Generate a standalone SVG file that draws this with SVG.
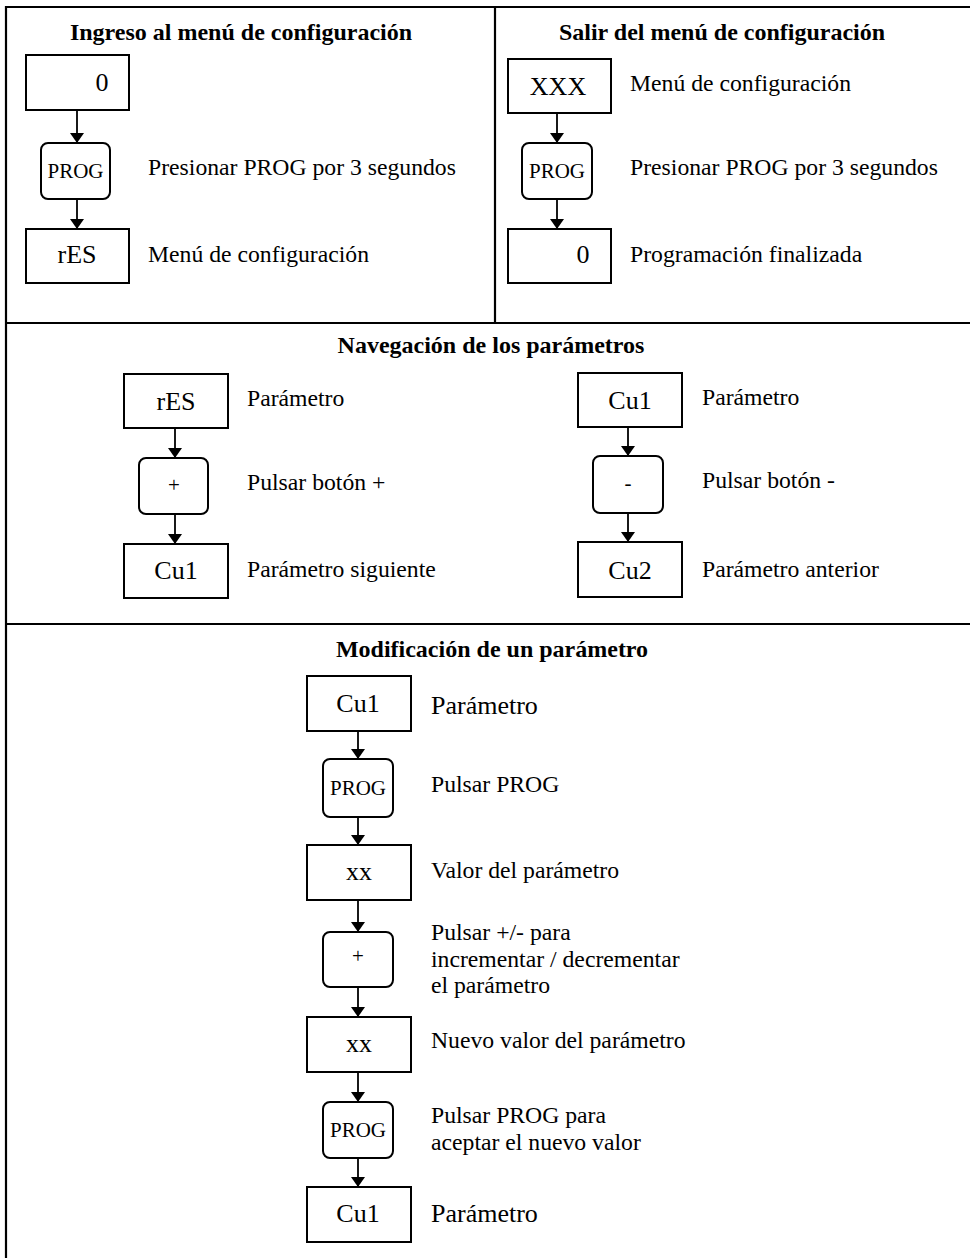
<svg xmlns="http://www.w3.org/2000/svg" width="970" height="1258" viewBox="0 0 970 1258">
<style>
text{font-family:"Liberation Serif","Times New Roman",serif;fill:#000}
.t{font-weight:bold;font-size:24px;text-anchor:middle}
.l{font-size:23.7px}
.lb{font-size:26px}
.v{font-size:26px;text-anchor:middle}
.p{font-size:21px;text-anchor:middle}
.box{fill:#fff;stroke:#000;stroke-width:2}
.frame{stroke:#000;stroke-width:2.2;fill:none}
.c{stroke:#000;stroke-width:1.8;fill:none;marker-end:url(#ah)}
</style>
<defs>
<marker id="ah" markerUnits="userSpaceOnUse" markerWidth="16" markerHeight="12" viewBox="0 0 16 12" refX="8" refY="11" orient="0">
<path d="M1,1 L15,1 L8,11 Z" fill="#000"/>
</marker>
</defs>
<rect width="970" height="1258" fill="#fff"/>
<g id="frame">
<path class="frame" d="M6,1258 V7 H970"/>
<path class="frame" d="M495,7 V323"/>
<path class="frame" d="M6,323 H970"/>
<path class="frame" d="M6,624 H970"/>
</g>
<g id="titles">
<text class="t" x="241" y="40">Ingreso al menú de configuración</text>
<text class="t" x="722" y="40">Salir del menú de configuración</text>
<text class="t" x="491" y="353">Navegación de los parámetros</text>
<text class="t" x="492" y="657">Modificación de un parámetro</text>
</g>
<g id="connectors">
<path class="c" d="M77,110 V143"/>
<path class="c" d="M77,199 V229"/>
<path class="c" d="M557,113 V143"/>
<path class="c" d="M557,199 V229"/>
<path class="c" d="M175,428 V458"/>
<path class="c" d="M175,514 V544"/>
<path class="c" d="M628,427 V456"/>
<path class="c" d="M628,513 V542"/>
<path class="c" d="M358,731 V759"/>
<path class="c" d="M358,817 V845"/>
<path class="c" d="M358,900 V932"/>
<path class="c" d="M358,987 V1017"/>
<path class="c" d="M358,1072 V1102"/>
<path class="c" d="M358,1158 V1187"/>
</g>
<g id="n1"><rect class="box" x="26" y="55" width="103" height="55"/><text class="v" x="102" y="91">0</text></g>
<g id="n2"><rect class="box" x="41" y="143" width="69" height="56" rx="7"/><text class="p" x="75.5" y="178">PROG</text><text class="l" x="148" y="175">Presionar PROG por 3 segundos</text></g>
<g id="n3"><rect class="box" x="26" y="229" width="103" height="54"/><text class="v" x="77" y="263">rES</text><text class="l" x="148" y="262">Menú de configuración</text></g>
<g id="n4"><rect class="box" x="508" y="59" width="103" height="54"/><text class="v" x="558" y="95">XXX</text><text class="l" x="630" y="91">Menú de configuración</text></g>
<g id="n5"><rect class="box" x="522" y="143" width="70" height="56" rx="7"/><text class="p" x="557" y="178">PROG</text><text class="l" x="630" y="175">Presionar PROG por 3 segundos</text></g>
<g id="n6"><rect class="box" x="508" y="229" width="103" height="54"/><text class="v" x="583" y="263">0</text><text class="l" x="630" y="262">Programación finalizada</text></g>
<g id="n7"><rect class="box" x="124" y="374" width="104" height="54"/><text class="v" x="176" y="410">rES</text><text class="l" x="247" y="406">Parámetro</text></g>
<g id="n8"><rect class="box" x="139" y="458" width="69" height="56" rx="7"/><text class="p" x="174" y="492">+</text><text class="l" x="247" y="490">Pulsar botón +</text></g>
<g id="n9"><rect class="box" x="124" y="544" width="104" height="54"/><text class="v" x="176" y="579">Cu1</text><text class="l" x="247" y="577">Parámetro siguiente</text></g>
<g id="n10"><rect class="box" x="578" y="373" width="104" height="54"/><text class="v" x="630" y="409">Cu1</text><text class="l" x="702" y="405">Parámetro</text></g>
<g id="n11"><rect class="box" x="593" y="456" width="70" height="57" rx="7"/><text class="p" x="628" y="490">-</text><text class="l" x="702" y="488">Pulsar botón -</text></g>
<g id="n12"><rect class="box" x="578" y="542" width="104" height="55"/><text class="v" x="630" y="579">Cu2</text><text class="l" x="702" y="577">Parámetro anterior</text></g>
<g id="n13"><rect class="box" x="307" y="676" width="104" height="55"/><text class="v" x="358" y="712">Cu1</text><text class="lb" x="431" y="714">Parámetro</text></g>
<g id="n14"><rect class="box" x="323" y="759" width="70" height="58" rx="7"/><text class="p" x="358" y="795">PROG</text><text class="l" x="431" y="792">Pulsar PROG</text></g>
<g id="n15"><rect class="box" x="307" y="845" width="104" height="55"/><text class="v" x="359" y="880">xx</text><text class="l" x="431" y="878">Valor del parámetro</text></g>
<g id="n16"><rect class="box" x="323" y="932" width="70" height="55" rx="7"/><text class="p" x="358" y="963">+</text><text class="l" x="431" y="940">Pulsar +/- para</text><text class="l" x="431" y="967">incrementar / decrementar</text><text class="l" x="431" y="993">el parámetro</text></g>
<g id="n17"><rect class="box" x="307" y="1017" width="104" height="55"/><text class="v" x="359" y="1052">xx</text><text class="l" x="431" y="1048">Nuevo valor del parámetro</text></g>
<g id="n18"><rect class="box" x="323" y="1102" width="70" height="56" rx="7"/><text class="p" x="358" y="1137">PROG</text><text class="l" x="431" y="1123">Pulsar PROG para</text><text class="l" x="431" y="1150">aceptar el nuevo valor</text></g>
<g id="n19"><rect class="box" x="307" y="1187" width="104" height="55"/><text class="v" x="358" y="1222">Cu1</text><text class="lb" x="431" y="1222">Parámetro</text></g>
</svg>
